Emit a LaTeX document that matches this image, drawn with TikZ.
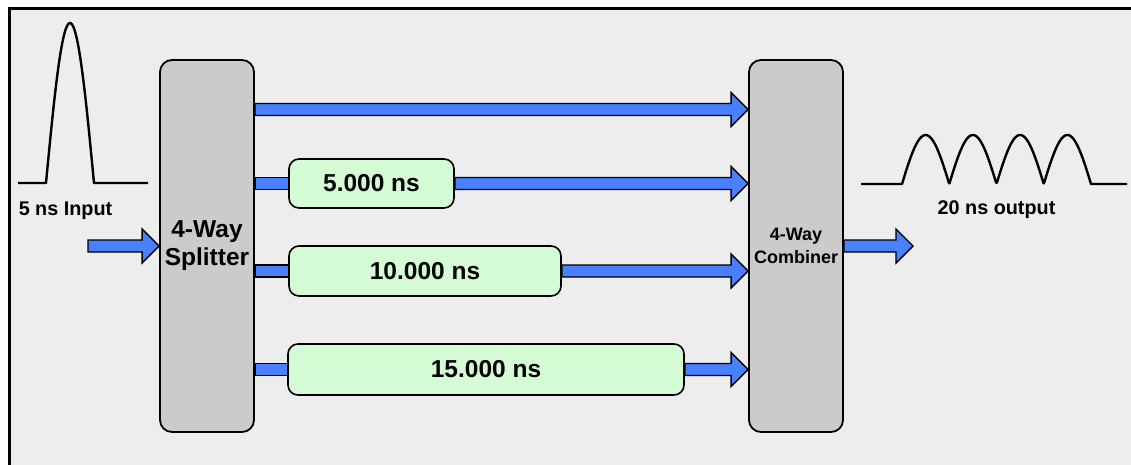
\documentclass[tikz,border=0pt]{standalone}
\usepackage{fontspec}
\setmainfont{Liberation Sans}
\usetikzlibrary{calc}
\pgfdeclarelayer{bg}
\pgfsetlayers{bg,main}

\definecolor{panel}{RGB}{237,237,237}
\definecolor{blockgray}{RGB}{203,203,203}
\definecolor{delaygreen}{RGB}{213,251,213}
\definecolor{pipeblue}{RGB}{72,128,255}

\tikzset{
  block/.style={draw=black, line width=1.8pt, fill=blockgray, rounded corners=12pt,
    minimum width=94pt, minimum height=372pt, inner sep=0pt, align=center},
  delay/.style={draw=black, line width=1.6pt, fill=delaygreen, rounded corners=10pt,
    inner sep=0pt, font=\bfseries\fontsize{24.5}{28}\selectfont},
  pipe/.style={draw=black, line width=1.4pt, fill=pipeblue, line join=miter},
  wave/.style={draw=black, line width=2.4pt, line join=round},
  caption/.style={anchor=base, inner sep=0pt, font=\bfseries\fontsize{19.8}{23}\selectfont}
}

% straight pipe from #1 to #2 (same height)
\newcommand\pipeshaft[2]{%
  \path[pipe] let \p1=(#1), \p2=(#2) in
    (\x1,\y1+6pt) -- (\x2,\y1+6pt) -- (\x2,\y1-6pt) -- (\x1,\y1-6pt) -- cycle;}
% pipe with a broad head ending at #2
\newcommand\pipearrow[2]{%
  \path[pipe] let \p1=(#1), \p2=(#2) in
    (\x1,\y1+6pt) -- (\x2-17pt,\y1+6pt) -- (\x2-17pt,\y1+17pt) -- (\x2,\y1)
    -- (\x2-17pt,\y1-17pt) -- (\x2-17pt,\y1-6pt) -- (\x1,\y1-6pt) -- cycle;}

\begin{document}
\begin{tikzpicture}[x=1pt, y=-1pt]
\useasboundingbox (0,0) rectangle (1131,464);

% blocks
\node[block, font=\bfseries\fontsize{24.5}{28}\selectfont] (split) at (207,246) {4-Way\\Splitter};
\node[block, font=\bfseries\fontsize{18}{23}\selectfont] (comb) at (796,246) {4-Way\\Combiner};

% delay lines
\node[delay, minimum width=165pt, minimum height=49pt] (d1) at (371.5,183.5) {5.000 ns};
\node[delay, minimum width=272pt, minimum height=50pt] (d2) at (425,271) {10.000 ns};
\node[delay, minimum width=396pt, minimum height=51pt] (d3) at (486,369.5) {15.000 ns};

% free ends and the direct path
\coordinate (r1) at (500,109.5);
\coordinate (in) at (88,246);
\coordinate (out) at (913,246);

\begin{pgfonlayer}{bg}
  \fill[white] (0,0) rectangle (1131,464);
  \begin{scope}
    \clip (0,0) rectangle (1131,464);
    \path[fill=panel, draw=black, line width=2.8pt] (9.5,8.5) rectangle (1150,480);
  \end{scope}
  \pipearrow{split.east |- r1}{comb.west |- r1}
  \pipeshaft{split.east |- d1.west}{d1.west}
  \pipearrow{d1.east}{comb.west |- d1.east}
  \pipeshaft{split.east |- d2.west}{d2.west}
  \pipearrow{d2.east}{comb.west |- d2.east}
  \pipeshaft{split.east |- d3.west}{d3.west}
  \pipearrow{d3.east}{comb.west |- d3.east}
  \pipearrow{in}{split.west |- in}
  \pipearrow{comb.east |- out}{out}
\end{pgfonlayer}

% single input pulse
\draw[wave] (18,183) -- (46,183)
  -- plot[domain=0:180, samples=80] ({46+\x/180*48},{183-160*sin(\x)})
  -- (148,183);
\node[caption] (inlabel) at (65.5,215) {5 ns Input};

% four-pulse output train
\draw[wave] (861,184) -- (902,184)
  -- plot[domain=0:720, samples=240] ({902+\x/720*189},{184-49*abs(sin(\x))})
  -- (1127,184);
\node[caption] (outlabel) at (996.5,214) {20 ns output};
\end{tikzpicture}
\end{document}
